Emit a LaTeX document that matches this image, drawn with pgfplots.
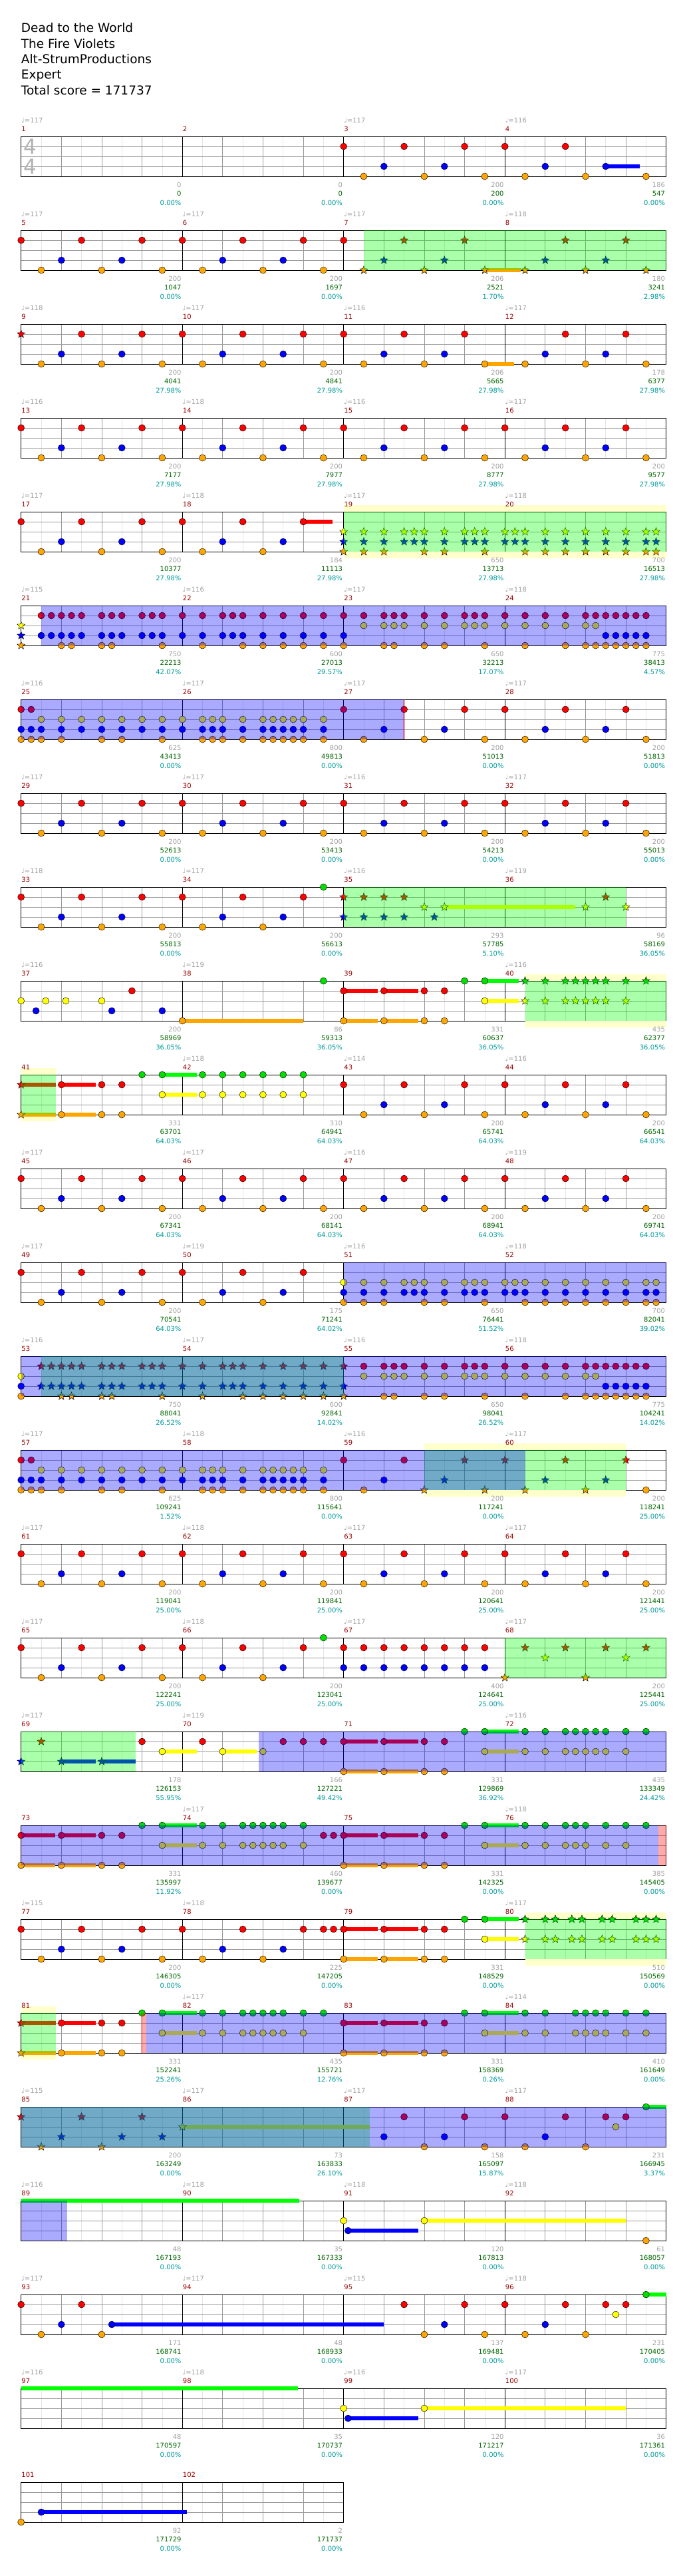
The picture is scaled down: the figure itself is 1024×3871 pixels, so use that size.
\documentclass[border=0pt]{standalone}
\usepackage{pgfplots}
\pgfplotsset{compat=1.18}
\usepackage{fontspec}
\setmainfont{DejaVu Sans}
\usetikzlibrary{plotmarks}

\definecolor{cR}{HTML}{FF0000}
\definecolor{cY}{HTML}{FFFF00}
\definecolor{cB}{HTML}{0000FF}
\definecolor{cO}{HTML}{FFA500}
\definecolor{cG}{HTML}{00DD00}
\definecolor{cGb}{HTML}{00FF00}
\definecolor{yband}{HTML}{FFFFCC}
\definecolor{tgray}{HTML}{A0A0A0}
\definecolor{mred}{HTML}{990000}
\definecolor{sgreen}{HTML}{006400}
\definecolor{scyan}{HTML}{009999}

\pgfdeclareplotmark{fstar}{%
  \pgfpathmoveto{\pgfpointpolar{90}{\pgfplotmarksize}}%
  \pgfpathlineto{\pgfpointpolar{126}{0.42\pgfplotmarksize}}%
  \pgfpathlineto{\pgfpointpolar{162}{\pgfplotmarksize}}%
  \pgfpathlineto{\pgfpointpolar{198}{0.42\pgfplotmarksize}}%
  \pgfpathlineto{\pgfpointpolar{234}{\pgfplotmarksize}}%
  \pgfpathlineto{\pgfpointpolar{270}{0.42\pgfplotmarksize}}%
  \pgfpathlineto{\pgfpointpolar{306}{\pgfplotmarksize}}%
  \pgfpathlineto{\pgfpointpolar{342}{0.42\pgfplotmarksize}}%
  \pgfpathlineto{\pgfpointpolar{18}{\pgfplotmarksize}}%
  \pgfpathlineto{\pgfpointpolar{54}{0.42\pgfplotmarksize}}%
  \pgfpathclose
  \pgfusepathqfillstroke
}

\pgfplotsset{
  gh/.style={
    scale only axis, width=970pt, height=60pt,
    xmin=0, xmax=16, ymin=0, ymax=4,
    clip=false, anchor=north west,
    axis line style={line width=0.9pt, black},
    xtick={0,1,...,16}, minor x tick num=1, ytick={1,2,3},
    xticklabels={}, yticklabels={},
    major tick length=0pt, minor tick length=0pt,
    xmajorgrids, xminorgrids, ymajorgrids,
    major grid style={line width=0.8pt, color=black!40},
    minor grid style={line width=0.6pt, color=black!10},
    extra x ticks={4,8,12}, extra x tick labels={},
    extra x tick style={grid=major, major grid style={line width=0.6pt, color=black}},
  },
  ghov/.style={scale only axis, width=970pt, height=60pt,
    xmin=0, xmax=16, ymin=0, ymax=4, clip=false, anchor=north west, hide axis},
  ghshort/.style={gh, width=485pt, xmax=8, xtick={0,1,...,8}, extra x ticks={4}},
  note/.style={only marks, mark=*, mark size=5pt, mark options={fill=#1, draw=black, line width=0.45pt}},
  starn/.style={only marks, mark=fstar, mark size=6.3pt, mark options={fill=#1, draw=black, line width=0.45pt}},
  sus/.style={no markers, line width=6.5pt, color=#1, line cap=butt},
}

\newcommand\Nt[3]{\addplot[note=#1] table[row sep=\\, y expr=#2]{x\\#3\\};}
\newcommand\St[3]{\addplot[starn=#1] table[row sep=\\, y expr=#2]{x\\#3\\};}
\newcommand\Su[4]{\addplot[sus=#1] coordinates {(#3,#2)(#4,#2)};}
\newcommand\GA[2]{\addplot[draw=none, fill=green, fill opacity=0.333] coordinates {(#1,0)(#1,4)(#2,4)(#2,0)} --cycle;}
\newcommand\BA[2]{\addplot[draw=none, fill=blue, fill opacity=0.333] coordinates {(#1,0)(#1,4)(#2,4)(#2,0)} --cycle;}
\newcommand\RA[2]{\addplot[draw=none, fill=red, fill opacity=0.333] coordinates {(#1,0)(#1,4)(#2,4)(#2,0)} --cycle;}
\newcommand\YB[2]{\addplot[draw=none, fill=yband] coordinates {(#1,4.03)(#1,4.67)(#2,4.67)(#2,4.03)} --cycle;
  \addplot[draw=none, fill=yband] coordinates {(#1,-0.03)(#1,-0.67)(#2,-0.67)(#2,-0.03)} --cycle;}

\newcommand\fullriff{%
  \Nt{cR}{3}{0\\1.5\\3\\4\\5.5\\7\\8\\9.5\\11\\12\\13.5\\15}%
  \Nt{cB}{1}{1\\2.5\\5\\6.5\\9\\10.5\\13\\14.5}%
  \Nt{cO}{0}{0.5\\2\\3.5\\4.5\\6\\7.5\\8.5\\10\\11.5\\12.5\\14\\15.5}}

\newcommand\fs{\fontsize{10}{12}\selectfont}
\newcommand\M[7]{%
  \pgfmathsetmacro\Mx{31.7+242.5*#2}%
  \pgfmathsetmacro\Me{31.7+242.5*(#2+1)-1.5}%
  \pgfmathsetmacro\Mt{-(205+141*#1)}%
  \pgfmathsetmacro\Mb{\Mt-60}%
  \if\relax\detokenize{#4}\relax\else
    \node[anchor=base west, inner sep=0, text=tgray, font=\fs] at ({\Mx pt+0.3pt},{\Mt pt+20.5pt}) {♩=#4};
  \fi
  \node[anchor=base west, inner sep=0, text=mred, font=\fs] at ({\Mx pt+0.5pt},{\Mt pt+7.5pt}) {#3};
  \node[anchor=base east, inner sep=0, text=tgray, font=\fs] at ({\Me pt},{\Mb pt-16.5pt}) {#5};
  \node[anchor=base east, inner sep=0, text=sgreen, font=\fs] at ({\Me pt},{\Mb pt-29.5pt}) {#6};
  \node[anchor=base east, inner sep=0, text=scyan, font=\fs] at ({\Me pt},{\Mb pt-43pt}) {#7\%};
}

\begin{document}
\begin{tikzpicture}
\path[use as bounding box] (0,0) rectangle (1024pt,-3871pt);

% title
\begin{scope}[every node/.style={anchor=base west, inner sep=0, font=\fontsize{18.5}{22}\selectfont}]
\node at (31.7pt,-48.7pt) {Dead to the World};
\node at (31.7pt,-72pt) {The Fire Violets};
\node at (31.7pt,-95.3pt) {Alt-StrumProductions};
\node at (31.7pt,-118.7pt) {Expert};
\node at (31.7pt,-142pt) {Total score = 171737};
\end{scope}

% row 0 : m1-4
\begin{axis}[gh, at={(31.7pt,-205pt)}]
\Su{cB}{1}{14.5}{15.35}
\Nt{cR}{3}{8\\9.5\\11\\12\\13.5}
\Nt{cB}{1}{9\\10.5\\13\\14.5}
\Nt{cO}{0}{8.5\\10\\11.5\\12.5\\14\\15.5}
\end{axis}
\node[text=black!30, font=\fontsize{31}{31}\selectfont, inner sep=0] at (45.2pt,-220.5pt) {4};
\node[text=black!30, font=\fontsize{31}{31}\selectfont, inner sep=0] at (45.2pt,-250.5pt) {4};

% row 1 : m5-8
\begin{axis}[gh, at={(31.7pt,-346pt)}]
\Su{cO}{0}{11.5}{12.4}
\Nt{cR}{3}{0\\1.5\\3\\4\\5.5\\7\\8}
\Nt{cB}{1}{1\\2.5\\5\\6.5}
\Nt{cO}{0}{0.5\\2\\3.5\\4.5\\6\\7.5}
\St{cR}{3}{9.5\\11\\13.5\\15}
\St{cB}{1}{9\\10.5\\13\\14.5}
\St{cO}{0}{8.5\\10\\11.5\\12.5\\14\\15.5}
\end{axis}
\begin{axis}[ghov, at={(31.7pt,-346pt)}]
\GA{8.5}{16}
\end{axis}

% row 2 : m9-12
\begin{axis}[gh, at={(31.7pt,-487pt)}]
\Su{cO}{0}{11.5}{12.23}
\St{cR}{3}{0}
\Nt{cR}{3}{1.5\\3\\4\\5.5\\7\\8\\9.5\\11\\13.5\\15}
\Nt{cB}{1}{1\\2.5\\5\\6.5\\9\\10.5\\13\\14.5}
\Nt{cO}{0}{0.5\\2\\3.5\\4.5\\6\\7.5\\8.5\\10\\11.5\\12.5\\14\\15.5}
\end{axis}

% row 3 : m13-16
\begin{axis}[gh, at={(31.7pt,-628pt)}]
\fullriff
\end{axis}

% row 4 : m17-20
\begin{axis}[gh, at={(31.7pt,-769pt)}]
\YB{8}{16}
\Su{cR}{3}{7}{7.73}
\Nt{cR}{3}{0\\1.5\\3\\4\\5.5\\7}
\Nt{cB}{1}{1\\2.5\\5\\6.5}
\Nt{cO}{0}{0.5\\2\\3.5\\4.5\\6}
\St{cY}{2}{8\\8.5\\9\\9.5\\9.75\\10\\10.5\\11\\11.25\\11.5\\12\\12.25\\12.5\\13\\13.5\\14\\14.5\\15\\15.5\\15.75}
\St{cB}{1}{8\\8.5\\9\\9.5\\9.75\\10\\10.5\\11\\11.25\\11.5\\12\\12.25\\12.5\\13\\13.5\\14\\14.5\\15\\15.5\\15.75}
\St{cO}{0}{8\\8.5\\9\\10\\10.5\\11.5\\12.5\\13\\13.5\\14\\14.5\\15\\15.5\\15.75}
\end{axis}
\begin{axis}[ghov, at={(31.7pt,-769pt)}]
\GA{8}{16}
\end{axis}

% row 5 : m21-24
\begin{axis}[gh, at={(31.7pt,-910pt)}]
\St{cY}{2}{0}
\St{cB}{1}{0}
\St{cO}{0}{0}
\Nt{cR}{3}{0.5\\0.75\\1\\1.25\\1.5\\2\\2.25\\2.5\\3\\3.25\\3.5\\4\\4.5\\5\\5.25\\5.5\\6\\6.5\\7\\7.5\\8\\8.5\\9\\9.25\\9.5\\10\\10.5\\11\\11.25\\11.5\\12\\12.5\\13\\13.5\\14\\14.25\\14.5\\14.75\\15\\15.25\\15.5}
\Nt{cY}{2}{8.5\\9\\9.25\\9.5\\10\\10.5\\11\\11.25\\11.5\\12\\12.5\\13\\13.5\\14\\14.25}
\Nt{cB}{1}{0.5\\0.75\\1\\1.25\\1.5\\2\\2.25\\2.5\\3\\3.25\\3.5\\4\\4.5\\5\\5.25\\5.5\\6\\6.5\\7\\7.5\\8\\14.5\\14.75\\15\\15.25\\15.5}
\Nt{cO}{0}{1\\1.25\\2\\2.25\\3.5\\4.5\\5.5\\6\\6.5\\7\\7.5\\8\\9\\9.25\\10\\10.5\\11.5\\12.5\\13.5\\14\\14.25\\14.5\\14.75\\15\\15.25\\15.5}
\end{axis}
\begin{axis}[ghov, at={(31.7pt,-910pt)}]
\BA{0.5}{16}
\end{axis}

% row 6 : m25-28
\begin{axis}[gh, at={(31.7pt,-1051pt)}]
\Nt{cR}{3}{0\\0.25\\8\\9.5\\11\\12\\13.5\\15}
\Nt{cY}{2}{0.5\\1\\1.5\\2\\2.5\\3\\3.5\\4\\4.5\\4.75\\5\\5.5\\6\\6.25\\6.5\\6.75\\7\\7.5}
\Nt{cB}{1}{0\\0.25\\0.5\\1\\1.5\\2\\2.5\\3\\3.5\\4\\4.5\\4.75\\5\\5.5\\6\\6.25\\6.5\\6.75\\7\\7.5\\9\\10.5\\13\\14.5}
\Nt{cO}{0}{0\\0.25\\0.5\\1\\2\\2.5\\3.5\\4.5\\4.75\\5\\5.5\\6\\6.25\\6.5\\6.75\\7\\7.5\\8.5\\10\\11.5\\12.5\\14\\15.5}
\end{axis}
\begin{axis}[ghov, at={(31.7pt,-1051pt)}]
\BA{0}{9.5}
\RA{9.47}{9.53}
\end{axis}

% row 7 : m29-32
\begin{axis}[gh, at={(31.7pt,-1192pt)}]
\fullriff
\end{axis}

% row 8 : m33-36
\begin{axis}[gh, at={(31.7pt,-1333pt)}]
\Su{cY}{2}{10.5}{13.74}
\Nt{cR}{3}{0\\1.5\\3\\4\\5.5\\7}
\Nt{cB}{1}{1\\2.5\\5\\6.5}
\Nt{cO}{0}{0.5\\2\\3.5\\4.5\\6}
\Nt{cG}{4}{7.5}
\St{cR}{3}{8\\8.5\\9\\9.5\\14.5}
\St{cY}{2}{10\\10.5\\14\\15}
\St{cB}{1}{8\\8.5\\9\\9.5\\10.25}
\end{axis}
\begin{axis}[ghov, at={(31.7pt,-1333pt)}]
\GA{8}{15}
\end{axis}

% row 9 : m37-40
\begin{axis}[gh, at={(31.7pt,-1474pt)}]
\YB{12.5}{16}
\Su{cO}{0}{4}{7}
\Su{cR}{3}{8}{8.85}
\Su{cR}{3}{9}{9.85}
\Su{cO}{0}{8}{8.85}
\Su{cO}{0}{9}{9.85}
\Su{cGb}{4}{11.5}{12.35}
\Su{cY}{2}{11.5}{12.35}
\Nt{cY}{2}{0\\0.61\\1.11\\2\\11.5}
\Nt{cR}{3}{2.75\\8\\9\\10\\10.5}
\Nt{cB}{1}{0.37\\2.25\\3.5}
\Nt{cO}{0}{4\\8\\9\\10\\10.5}
\Nt{cG}{4}{7.5\\11\\11.5}
\St{cG}{4}{12.5\\13\\13.5\\13.75\\14\\14.25\\14.5\\15\\15.5}
\St{cY}{2}{12.5\\13\\13.5\\13.75\\14\\14.25\\14.5\\15}
\end{axis}
\begin{axis}[ghov, at={(31.7pt,-1474pt)}]
\GA{12.5}{16}
\end{axis}

% row 10 : m41-44
\begin{axis}[gh, at={(31.7pt,-1615pt)}]
\YB{0}{0.86}
\Su{cR}{3}{0}{0.86}
\Su{cO}{0}{0}{0.86}
\Su{cR}{3}{1}{1.85}
\Su{cO}{0}{1}{1.85}
\Su{cGb}{4}{3.5}{4.36}
\Su{cY}{2}{3.5}{4.36}
\St{cR}{3}{0}
\St{cO}{0}{0}
\Nt{cR}{3}{1\\2\\2.5\\8\\9.5\\11\\12\\13.5\\15}
\Nt{cO}{0}{1\\2\\2.5\\8.5\\10\\11.5\\12.5\\14\\15.5}
\Nt{cG}{4}{3\\3.5\\4.5\\5\\5.5\\6\\6.5\\7}
\Nt{cY}{2}{3.5\\4.5\\5\\5.5\\6\\6.5\\7}
\Nt{cB}{1}{9\\10.5\\13\\14.5}
\end{axis}
\begin{axis}[ghov, at={(31.7pt,-1615pt)}]
\GA{0}{0.86}
\end{axis}

% row 11 : m45-48
\begin{axis}[gh, at={(31.7pt,-1756pt)}]
\fullriff
\end{axis}

% row 12 : m49-52
\begin{axis}[gh, at={(31.7pt,-1897pt)}]
\Nt{cR}{3}{0\\1.5\\3\\4\\5.5\\7}
\Nt{cY}{2}{8\\8.5\\9\\9.5\\9.75\\10\\10.5\\11\\11.25\\11.5\\12\\12.25\\12.5\\13\\13.5\\14\\14.5\\15\\15.5\\15.75}
\Nt{cB}{1}{1\\2.5\\5\\6.5\\8\\8.5\\9\\9.5\\9.75\\10\\10.5\\11\\11.25\\11.5\\12\\12.25\\12.5\\13\\13.5\\14\\14.5\\15\\15.5\\15.75}
\Nt{cO}{0}{0.5\\2\\3.5\\4.5\\6\\8\\8.5\\9\\10\\10.5\\11.5\\12.5\\13\\13.5\\14\\14.5\\15\\15.5\\15.75}
\end{axis}
\begin{axis}[ghov, at={(31.7pt,-1897pt)}]
\BA{8}{16}
\end{axis}

% row 13 : m53-56
\begin{axis}[gh, at={(31.7pt,-2038pt)}]
\Nt{cY}{2}{0\\8.5\\9\\9.25\\9.5\\10\\10.5\\11\\11.25\\11.5\\12\\12.5\\13\\13.5\\14\\14.25}
\Nt{cB}{1}{0\\14.5\\14.75\\15\\15.25\\15.5}
\Nt{cO}{0}{0\\9\\9.25\\10\\10.5\\11.5\\12.5\\13.5\\14\\14.25\\14.5\\14.75\\15\\15.25\\15.5}
\Nt{cR}{3}{8.5\\9\\9.25\\9.5\\10\\10.5\\11\\11.25\\11.5\\12\\12.5\\13\\13.5\\14\\14.25\\14.5\\14.75\\15\\15.25\\15.5}
\St{cR}{3}{0.5\\0.75\\1\\1.25\\1.5\\2\\2.25\\2.5\\3\\3.25\\3.5\\4\\4.5\\5\\5.25\\5.5\\6\\6.5\\7\\7.5\\8}
\St{cB}{1}{0.5\\0.75\\1\\1.25\\1.5\\2\\2.25\\2.5\\3\\3.25\\3.5\\4\\4.5\\5\\5.25\\5.5\\6\\6.5\\7\\7.5\\8}
\St{cO}{0}{1\\1.25\\2\\2.25\\3.5\\4.5\\5.5\\6\\6.5\\7\\7.5\\8}
\end{axis}
\begin{axis}[ghov, at={(31.7pt,-2038pt)}]
\GA{0.5}{8}
\BA{0}{16}
\end{axis}

% row 14 : m57-60
\begin{axis}[gh, at={(31.7pt,-2179pt)}]
\YB{10}{15}
\Nt{cR}{3}{0\\0.25\\8\\9.5}
\Nt{cY}{2}{0.5\\1\\1.5\\2\\2.5\\3\\3.5\\4\\4.5\\4.75\\5\\5.5\\6\\6.25\\6.5\\6.75\\7\\7.5}
\Nt{cB}{1}{0\\0.25\\0.5\\1\\1.5\\2\\2.5\\3\\3.5\\4\\4.5\\4.75\\5\\5.5\\6\\6.25\\6.5\\6.75\\7\\7.5\\9}
\Nt{cO}{0}{0\\0.25\\0.5\\1\\2\\2.5\\3.5\\4.5\\4.75\\5\\5.5\\6\\6.25\\6.5\\6.75\\7\\7.5\\8.5\\15.5}
\St{cR}{3}{11\\12\\13.5\\15}
\St{cB}{1}{10.5\\13\\14.5}
\St{cO}{0}{10\\11.5\\12.5\\14}
\end{axis}
\begin{axis}[ghov, at={(31.7pt,-2179pt)}]
\GA{10}{15}
\BA{0}{12.5}
\end{axis}

% row 15 : m61-64
\begin{axis}[gh, at={(31.7pt,-2320pt)}]
\fullriff
\end{axis}

% row 16 : m65-68
\begin{axis}[gh, at={(31.7pt,-2461pt)}]
\Nt{cR}{3}{0\\1.5\\3\\4\\5.5\\7\\8\\8.5\\9\\9.5\\10\\10.5\\11\\11.5}
\Nt{cB}{1}{1\\2.5\\5\\6.5\\8\\8.5\\9\\9.5\\10\\10.5\\11\\11.5}
\Nt{cO}{0}{0.5\\2\\3.5\\4.5\\6}
\Nt{cG}{4}{7.5}
\St{cO}{0}{12\\14}
\St{cR}{3}{12.5\\13.5\\14.5\\15.5}
\St{cY}{2}{13\\15}
\end{axis}
\begin{axis}[ghov, at={(31.7pt,-2461pt)}]
\GA{12}{16}
\end{axis}

% row 17 : m69-72
\begin{axis}[gh, at={(31.7pt,-2602pt)}]
\Su{cB}{1}{1}{1.85}
\Su{cB}{1}{2}{2.85}
\Su{cY}{2}{3.5}{4.36}
\Su{cY}{2}{5}{5.85}
\Su{cR}{3}{8}{8.85}
\Su{cR}{3}{9}{9.85}
\Su{cO}{0}{8}{8.85}
\Su{cO}{0}{9}{9.85}
\Su{cGb}{4}{11.5}{12.35}
\Su{cY}{2}{11.5}{12.35}
\St{cB}{1}{0\\1\\2}
\St{cR}{3}{0.5}
\Nt{cR}{3}{3\\4.5\\6.5\\7\\7.5\\8\\9\\10\\10.5}
\Nt{cY}{2}{3.5\\5\\6\\11.5\\12.5\\13\\13.5\\13.75\\14\\14.25\\14.5\\15}
\Nt{cO}{0}{8\\9\\10\\10.5}
\Nt{cG}{4}{11\\11.5\\12.5\\13\\13.5\\13.75\\14\\14.25\\14.5\\15\\15.5}
\end{axis}
\begin{axis}[ghov, at={(31.7pt,-2602pt)}]
\GA{0}{2.85}
\BA{5.9}{16}
\end{axis}

% row 18 : m73-76
\begin{axis}[gh, at={(31.7pt,-2743pt)}]
\Su{cR}{3}{0}{0.85}
\Su{cR}{3}{1}{1.85}
\Su{cO}{0}{0}{0.85}
\Su{cO}{0}{1}{1.85}
\Su{cGb}{4}{3.5}{4.36}
\Su{cY}{2}{3.5}{4.36}
\Su{cR}{3}{8}{8.85}
\Su{cR}{3}{9}{9.85}
\Su{cO}{0}{8}{8.85}
\Su{cO}{0}{9}{9.85}
\Su{cGb}{4}{11.5}{12.35}
\Su{cY}{2}{11.5}{12.35}
\Nt{cR}{3}{0\\1\\2\\2.5\\7.5\\7.75\\8\\9\\10\\10.5}
\Nt{cO}{0}{0\\1\\2\\2.5\\8\\9\\10\\10.5}
\Nt{cG}{4}{3\\3.5\\4.5\\5\\5.5\\5.75\\6\\6.25\\6.5\\7\\11\\11.5\\12.5\\13\\13.5\\13.75\\14\\14.5\\15\\15.5}
\Nt{cY}{2}{3.5\\4.5\\5\\5.5\\5.75\\6\\6.25\\6.5\\7\\11.5\\12.5\\13\\13.5\\13.75\\14\\14.5\\15}
\end{axis}
\begin{axis}[ghov, at={(31.7pt,-2743pt)}]
\BA{0}{15.8}
\RA{15.8}{16}
\end{axis}

% row 19 : m77-80
\begin{axis}[gh, at={(31.7pt,-2884pt)}]
\YB{12.5}{16}
\Su{cR}{3}{8}{8.85}
\Su{cR}{3}{9}{9.85}
\Su{cO}{0}{8}{8.85}
\Su{cO}{0}{9}{9.85}
\Su{cGb}{4}{11.5}{12.35}
\Su{cY}{2}{11.5}{12.35}
\Nt{cR}{3}{0\\1.5\\3\\4\\5.5\\7\\7.5\\7.75\\8\\9\\10\\10.5}
\Nt{cB}{1}{1\\2.5\\5\\6.5}
\Nt{cO}{0}{0.5\\2\\3.5\\4.5\\6\\8\\9\\10\\10.5}
\Nt{cG}{4}{11\\11.5}
\Nt{cY}{2}{11.5}
\St{cG}{4}{12.5\\13\\13.25\\13.66\\13.91\\14.41\\14.66\\15.25\\15.5\\15.75}
\St{cY}{2}{12.5\\13\\13.25\\13.66\\13.91\\14.41\\14.66\\15.25\\15.5\\15.75}
\end{axis}
\begin{axis}[ghov, at={(31.7pt,-2884pt)}]
\GA{12.5}{16}
\end{axis}

% row 20 : m81-84
\begin{axis}[gh, at={(31.7pt,-3025pt)}]
\YB{0}{0.86}
\Su{cR}{3}{0}{0.86}
\Su{cO}{0}{0}{0.86}
\Su{cR}{3}{1}{1.85}
\Su{cO}{0}{1}{1.85}
\Su{cGb}{4}{3.5}{4.36}
\Su{cY}{2}{3.5}{4.36}
\Su{cR}{3}{8}{8.85}
\Su{cR}{3}{9}{9.85}
\Su{cO}{0}{8}{8.85}
\Su{cO}{0}{9}{9.85}
\Su{cGb}{4}{11.5}{12.35}
\Su{cY}{2}{11.5}{12.35}
\St{cR}{3}{0}
\St{cO}{0}{0}
\Nt{cR}{3}{1\\2\\2.5\\8\\9\\10\\10.5}
\Nt{cO}{0}{1\\2\\2.5\\8\\9\\10\\10.5}
\Nt{cG}{4}{3\\3.5\\4.5\\5\\5.5\\5.75\\6\\6.25\\6.5\\7\\7.5\\11\\11.5\\12.5\\13\\13.75\\14\\14.25\\14.5\\15\\15.5}
\Nt{cY}{2}{3.5\\4.5\\5\\5.5\\5.75\\6\\6.25\\6.5\\7\\11.5\\12.5\\13\\13.75\\14\\14.25\\14.5\\15\\15.5}
\end{axis}
\begin{axis}[ghov, at={(31.7pt,-3025pt)}]
\GA{0}{0.86}
\RA{2.98}{3.1}
\BA{3.1}{16}
\end{axis}

% row 21 : m85-88
\begin{axis}[gh, at={(31.7pt,-3166pt)}]
\Su{cY}{2}{4}{8.65}
\Su{cGb}{4}{15.5}{16}
\St{cR}{3}{0\\1.5\\3}
\St{cB}{1}{1\\2.5\\3.5}
\St{cO}{0}{0.5\\2}
\St{cY}{2}{4}
\Nt{cR}{3}{9.5\\11\\12\\13.5\\14.5\\15}
\Nt{cY}{2}{14.75}
\Nt{cB}{1}{9\\10.5\\13}
\Nt{cO}{0}{10\\11.5\\12.5\\14}
\Nt{cG}{4}{15.5}
\end{axis}
\begin{axis}[ghov, at={(31.7pt,-3166pt)}]
\GA{0}{8.65}
\BA{0}{16}
\end{axis}

% row 22 : m89-92
\begin{axis}[gh, at={(31.7pt,-3307pt)}]
\Su{cGb}{4}{0}{6.9}
\Su{cB}{1}{8.11}{9.85}
\Su{cY}{2}{10}{15}
\Nt{cY}{2}{8\\10}
\Nt{cB}{1}{8.11}
\Nt{cO}{0}{15.5}
\end{axis}
\begin{axis}[ghov, at={(31.7pt,-3307pt)}]
\BA{0}{1.14}
\end{axis}

% row 23 : m93-96
\begin{axis}[gh, at={(31.7pt,-3448pt)}]
\Su{cB}{1}{2.25}{9}
\Su{cGb}{4}{15.5}{16}
\Nt{cR}{3}{0\\1.5\\9.5\\11\\12\\13.5\\14.5\\15}
\Nt{cB}{1}{1\\2.25\\10.5\\13}
\Nt{cO}{0}{0.5\\2\\10\\11.5\\12.5\\14}
\Nt{cY}{2}{14.75}
\Nt{cG}{4}{15.5}
\end{axis}

% row 24 : m97-100
\begin{axis}[gh, at={(31.7pt,-3589pt)}]
\Su{cGb}{4}{0}{6.86}
\Su{cB}{1}{8.11}{9.85}
\Su{cY}{2}{10}{15}
\Nt{cY}{2}{8\\10}
\Nt{cB}{1}{8.11}
\end{axis}

% row 25 : m101-102
\begin{axis}[ghshort, at={(31.7pt,-3730pt)}]
\Su{cB}{1}{0.5}{4.11}
\Nt{cO}{0}{0}
\Nt{cB}{1}{0.5}
\end{axis}

% texts
\M{0}{0}{1}{117}{0}{0}{0.00}\M{0}{1}{2}{}{0}{0}{0.00}\M{0}{2}{3}{117}{200}{200}{0.00}\M{0}{3}{4}{116}{186}{547}{0.00}
\M{1}{0}{5}{117}{200}{1047}{0.00}\M{1}{1}{6}{117}{200}{1697}{0.00}\M{1}{2}{7}{117}{206}{2521}{1.70}\M{1}{3}{8}{118}{180}{3241}{2.98}
\M{2}{0}{9}{118}{200}{4041}{27.98}\M{2}{1}{10}{117}{200}{4841}{27.98}\M{2}{2}{11}{116}{206}{5665}{27.98}\M{2}{3}{12}{117}{178}{6377}{27.98}
\M{3}{0}{13}{116}{200}{7177}{27.98}\M{3}{1}{14}{118}{200}{7977}{27.98}\M{3}{2}{15}{116}{200}{8777}{27.98}\M{3}{3}{16}{117}{200}{9577}{27.98}
\M{4}{0}{17}{117}{200}{10377}{27.98}\M{4}{1}{18}{118}{184}{11113}{27.98}\M{4}{2}{19}{117}{650}{13713}{27.98}\M{4}{3}{20}{118}{700}{16513}{27.98}
\M{5}{0}{21}{115}{750}{22213}{42.07}\M{5}{1}{22}{116}{600}{27013}{29.57}\M{5}{2}{23}{117}{650}{32213}{17.07}\M{5}{3}{24}{118}{775}{38413}{4.57}
\M{6}{0}{25}{116}{625}{43413}{0.00}\M{6}{1}{26}{117}{800}{49813}{0.00}\M{6}{2}{27}{117}{200}{51013}{0.00}\M{6}{3}{28}{117}{200}{51813}{0.00}
\M{7}{0}{29}{117}{200}{52613}{0.00}\M{7}{1}{30}{117}{200}{53413}{0.00}\M{7}{2}{31}{116}{200}{54213}{0.00}\M{7}{3}{32}{117}{200}{55013}{0.00}
\M{8}{0}{33}{118}{200}{55813}{0.00}\M{8}{1}{34}{117}{200}{56613}{0.00}\M{8}{2}{35}{116}{293}{57785}{5.10}\M{8}{3}{36}{119}{96}{58169}{36.05}
\M{9}{0}{37}{116}{200}{58969}{36.05}\M{9}{1}{38}{119}{86}{59313}{36.05}\M{9}{2}{39}{}{331}{60637}{36.05}\M{9}{3}{40}{116}{435}{62377}{36.05}
\M{10}{0}{41}{}{331}{63701}{64.03}\M{10}{1}{42}{118}{310}{64941}{64.03}\M{10}{2}{43}{114}{200}{65741}{64.03}\M{10}{3}{44}{116}{200}{66541}{64.03}
\M{11}{0}{45}{117}{200}{67341}{64.03}\M{11}{1}{46}{117}{200}{68141}{64.03}\M{11}{2}{47}{116}{200}{68941}{64.03}\M{11}{3}{48}{119}{200}{69741}{64.03}
\M{12}{0}{49}{117}{200}{70541}{64.03}\M{12}{1}{50}{119}{175}{71241}{64.02}\M{12}{2}{51}{116}{650}{76441}{51.52}\M{12}{3}{52}{118}{700}{82041}{39.02}
\M{13}{0}{53}{116}{750}{88041}{26.52}\M{13}{1}{54}{117}{600}{92841}{14.02}\M{13}{2}{55}{116}{650}{98041}{26.52}\M{13}{3}{56}{118}{775}{104241}{14.02}
\M{14}{0}{57}{117}{625}{109241}{1.52}\M{14}{1}{58}{118}{800}{115641}{0.00}\M{14}{2}{59}{116}{200}{117241}{0.00}\M{14}{3}{60}{117}{200}{118241}{25.00}
\M{15}{0}{61}{117}{200}{119041}{25.00}\M{15}{1}{62}{118}{200}{119841}{25.00}\M{15}{2}{63}{117}{200}{120641}{25.00}\M{15}{3}{64}{117}{200}{121441}{25.00}
\M{16}{0}{65}{117}{200}{122241}{25.00}\M{16}{1}{66}{118}{200}{123041}{25.00}\M{16}{2}{67}{117}{400}{124641}{25.00}\M{16}{3}{68}{117}{200}{125441}{25.00}
\M{17}{0}{69}{117}{178}{126153}{55.95}\M{17}{1}{70}{119}{166}{127221}{49.42}\M{17}{2}{71}{}{331}{129869}{36.92}\M{17}{3}{72}{116}{435}{133349}{24.42}
\M{18}{0}{73}{}{331}{135997}{11.92}\M{18}{1}{74}{117}{460}{139677}{0.00}\M{18}{2}{75}{}{331}{142325}{0.00}\M{18}{3}{76}{118}{385}{145405}{0.00}
\M{19}{0}{77}{115}{200}{146305}{0.00}\M{19}{1}{78}{118}{225}{147205}{0.00}\M{19}{2}{79}{}{331}{148529}{0.00}\M{19}{3}{80}{117}{510}{150569}{0.00}
\M{20}{0}{81}{}{331}{152241}{25.26}\M{20}{1}{82}{117}{435}{155721}{12.76}\M{20}{2}{83}{}{331}{158369}{0.26}\M{20}{3}{84}{114}{410}{161649}{0.00}
\M{21}{0}{85}{115}{200}{163249}{0.00}\M{21}{1}{86}{117}{73}{163833}{26.10}\M{21}{2}{87}{117}{158}{165097}{15.87}\M{21}{3}{88}{117}{231}{166945}{3.37}
\M{22}{0}{89}{116}{48}{167193}{0.00}\M{22}{1}{90}{118}{35}{167333}{0.00}\M{22}{2}{91}{118}{120}{167813}{0.00}\M{22}{3}{92}{118}{61}{168057}{0.00}
\M{23}{0}{93}{117}{171}{168741}{0.00}\M{23}{1}{94}{117}{48}{168933}{0.00}\M{23}{2}{95}{115}{137}{169481}{0.00}\M{23}{3}{96}{118}{231}{170405}{0.00}
\M{24}{0}{97}{116}{48}{170597}{0.00}\M{24}{1}{98}{118}{35}{170737}{0.00}\M{24}{2}{99}{116}{120}{171217}{0.00}\M{24}{3}{100}{117}{36}{171361}{0.00}
\M{25}{0}{101}{}{92}{171729}{0.00}\M{25}{1}{102}{}{2}{171737}{0.00}
\end{tikzpicture}
\end{document}
